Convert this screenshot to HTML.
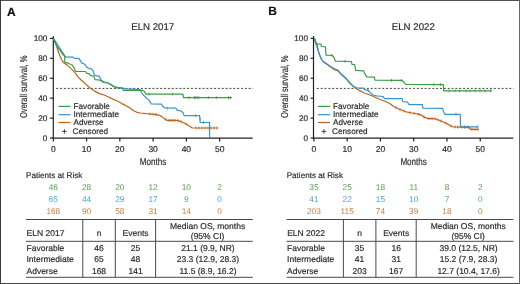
<!DOCTYPE html>
<html><head><meta charset="utf-8"><style>
html,body{margin:0;padding:0;background:#fff;}
svg{display:block;font-family:"Liberation Sans",sans-serif;text-rendering:geometricPrecision;will-change:transform;}
text{stroke-width:0.18px;}
</style></head><body>
<svg width="520" height="284" viewBox="0 0 520 284">
<rect x="0" y="0" width="520" height="284" fill="#fff"/>
<g transform="translate(0,0)">
<text x="6.9" y="15.5" font-weight="bold" font-size="12" fill="#111" stroke="#111">A</text>
<text x="131.2" y="29.8" font-size="9.8" fill="#2b2b2b" stroke="#2b2b2b" textLength="43" lengthAdjust="spacingAndGlyphs">ELN 2017</text>
<g stroke="#222" stroke-width="1.2" fill="none">
<line x1="53.3" y1="36" x2="53.3" y2="138.1"/>
<line x1="52.699999999999996" y1="138.1" x2="252.7" y2="138.1" stroke-width="1.35"/>
<line x1="50" y1="38.40" x2="53.3" y2="38.40"/>
<line x1="50" y1="58.32" x2="53.3" y2="58.32"/>
<line x1="50" y1="78.24" x2="53.3" y2="78.24"/>
<line x1="50" y1="98.16" x2="53.3" y2="98.16"/>
<line x1="50" y1="118.08" x2="53.3" y2="118.08"/>
<line x1="50" y1="138.00" x2="53.3" y2="138.00"/>
<line x1="53.30" y1="138.1" x2="53.30" y2="141.5"/>
<line x1="86.57" y1="138.1" x2="86.57" y2="141.5"/>
<line x1="119.84" y1="138.1" x2="119.84" y2="141.5"/>
<line x1="153.11" y1="138.1" x2="153.11" y2="141.5"/>
<line x1="186.38" y1="138.1" x2="186.38" y2="141.5"/>
<line x1="219.65" y1="138.1" x2="219.65" y2="141.5"/>
</g>
<text x="47.4" y="41.30" font-size="8.2" fill="#2b2b2b" stroke="#2b2b2b" text-anchor="end">100</text>
<text x="47.4" y="61.22" font-size="8.2" fill="#2b2b2b" stroke="#2b2b2b" text-anchor="end">80</text>
<text x="47.4" y="81.14" font-size="8.2" fill="#2b2b2b" stroke="#2b2b2b" text-anchor="end">60</text>
<text x="47.4" y="101.06" font-size="8.2" fill="#2b2b2b" stroke="#2b2b2b" text-anchor="end">40</text>
<text x="47.4" y="120.98" font-size="8.2" fill="#2b2b2b" stroke="#2b2b2b" text-anchor="end">20</text>
<text x="47.4" y="140.90" font-size="8.2" fill="#2b2b2b" stroke="#2b2b2b" text-anchor="end">0</text>
<text x="53.30" y="151.5" font-size="8.5" fill="#2b2b2b" stroke="#2b2b2b" text-anchor="middle">0</text>
<text x="86.57" y="151.5" font-size="8.5" fill="#2b2b2b" stroke="#2b2b2b" text-anchor="middle">10</text>
<text x="119.84" y="151.5" font-size="8.5" fill="#2b2b2b" stroke="#2b2b2b" text-anchor="middle">20</text>
<text x="153.11" y="151.5" font-size="8.5" fill="#2b2b2b" stroke="#2b2b2b" text-anchor="middle">30</text>
<text x="186.38" y="151.5" font-size="8.5" fill="#2b2b2b" stroke="#2b2b2b" text-anchor="middle">40</text>
<text x="219.65" y="151.5" font-size="8.5" fill="#2b2b2b" stroke="#2b2b2b" text-anchor="middle">50</text>
<text x="153" y="164.6" font-size="10" fill="#2b2b2b" stroke="#2b2b2b" text-anchor="middle" textLength="26.4" lengthAdjust="spacingAndGlyphs">Months</text>
<text transform="translate(27.4,118) rotate(-90)" x="0" y="0" font-size="10" fill="#2b2b2b" stroke="#2b2b2b" textLength="62.5" lengthAdjust="spacingAndGlyphs">Overall survival, %</text>
<line x1="56.2" y1="88.4" x2="253" y2="88.4" stroke="#444" stroke-width="1" stroke-dasharray="2,1.85"/>
<g transform="translate(0,0)">
<line x1="58.5" y1="106.4" x2="70.5" y2="106.4" stroke="#3c9c46" stroke-width="1.2"/>
<text x="73.5" y="108.8" font-size="8.2" fill="#2b2b2b" stroke="#2b2b2b">Favorable</text>
<line x1="58.5" y1="114.7" x2="70.5" y2="114.7" stroke="#3794d2" stroke-width="1.2"/>
<text x="73.5" y="117.2" font-size="8.2" fill="#2b2b2b" stroke="#2b2b2b">Intermediate</text>
<line x1="58.5" y1="122.5" x2="70.5" y2="122.5" stroke="#b8641f" stroke-width="1.2"/>
<text x="73.5" y="125.4" font-size="8.2" fill="#2b2b2b" stroke="#2b2b2b">Adverse</text>
<text x="72.6" y="133.7" font-size="8.2" fill="#2b2b2b" stroke="#2b2b2b">Censored</text>
<path d="M62,131.4 h4.8 M64.4,129.1 v4.6" stroke="#333" stroke-width="0.9"/>
</g>
<text x="26.1" y="177.6" font-size="8.1" fill="#2b2b2b" stroke="#2b2b2b">Patients at Risk</text>
<text x="53.30" y="189.6" font-size="8.3" fill="#4f9e48" text-anchor="middle">46</text>
<text x="86.57" y="189.6" font-size="8.3" fill="#4f9e48" text-anchor="middle">28</text>
<text x="119.84" y="189.6" font-size="8.3" fill="#4f9e48" text-anchor="middle">20</text>
<text x="153.11" y="189.6" font-size="8.3" fill="#4f9e48" text-anchor="middle">12</text>
<text x="186.38" y="189.6" font-size="8.3" fill="#4f9e48" text-anchor="middle">10</text>
<text x="219.65" y="189.6" font-size="8.3" fill="#4f9e48" text-anchor="middle">2</text>
<text x="53.30" y="201.8" font-size="8.3" fill="#4a9fd8" text-anchor="middle">65</text>
<text x="86.57" y="201.8" font-size="8.3" fill="#4a9fd8" text-anchor="middle">44</text>
<text x="119.84" y="201.8" font-size="8.3" fill="#4a9fd8" text-anchor="middle">29</text>
<text x="153.11" y="201.8" font-size="8.3" fill="#4a9fd8" text-anchor="middle">17</text>
<text x="186.38" y="201.8" font-size="8.3" fill="#4a9fd8" text-anchor="middle">9</text>
<text x="219.65" y="201.8" font-size="8.3" fill="#4a9fd8" text-anchor="middle">0</text>
<text x="53.30" y="214" font-size="8.3" fill="#c27e42" text-anchor="middle">168</text>
<text x="86.57" y="214" font-size="8.3" fill="#c27e42" text-anchor="middle">90</text>
<text x="119.84" y="214" font-size="8.3" fill="#c27e42" text-anchor="middle">58</text>
<text x="153.11" y="214" font-size="8.3" fill="#c27e42" text-anchor="middle">31</text>
<text x="186.38" y="214" font-size="8.3" fill="#c27e42" text-anchor="middle">14</text>
<text x="219.65" y="214" font-size="8.3" fill="#c27e42" text-anchor="middle">0</text>
<g stroke="#4a4a4a" stroke-width="1">
<line x1="26" y1="219.5" x2="252.8" y2="219.5"/>
<line x1="26" y1="241.3" x2="252.8" y2="241.3"/>
<line x1="26" y1="277.3" x2="252.8" y2="277.3"/>
<line x1="82.8" y1="219.5" x2="82.8" y2="277.3"/>
<line x1="115.3" y1="219.5" x2="115.3" y2="277.3"/>
<line x1="155.6" y1="219.5" x2="155.6" y2="277.3"/>
</g>
<g font-size="8.5" fill="#2b2b2b" stroke="#2b2b2b">
<text x="26.6" y="235.6">ELN 2017</text>
<text x="99" y="235.6" text-anchor="middle">n</text>
<text x="135.6" y="235.6" text-anchor="middle">Events</text>
<text x="207.6" y="228.6" text-anchor="middle">Median OS, months</text>
<text x="207.6" y="238.7" text-anchor="middle">(95% CI)</text>
<text x="26.5" y="250.5">Favorable</text>
<text x="99" y="250.5" text-anchor="middle">46</text>
<text x="135.6" y="250.5" text-anchor="middle">25</text>
<text x="208" y="250.5" text-anchor="middle">21.1 (9.9, NR)</text>
<text x="26.5" y="262.1">Intermediate</text>
<text x="99" y="262.1" text-anchor="middle">65</text>
<text x="135.6" y="262.1" text-anchor="middle">48</text>
<text x="208" y="262.1" text-anchor="middle">23.3 (12.9, 28.3)</text>
<text x="26.5" y="273.6">Adverse</text>
<text x="99" y="273.6" text-anchor="middle">168</text>
<text x="135.6" y="273.6" text-anchor="middle">141</text>
<text x="208" y="273.6" text-anchor="middle">11.5 (8.9, 16.2)</text>
</g>
</g>
<g transform="translate(260.6,0)">
<text x="7.6" y="15.2" font-weight="bold" font-size="12" fill="#111" stroke="#111">B</text>
<text x="131.2" y="29.8" font-size="9.8" fill="#2b2b2b" stroke="#2b2b2b" textLength="43" lengthAdjust="spacingAndGlyphs">ELN 2022</text>
<g stroke="#222" stroke-width="1.2" fill="none">
<line x1="52.9" y1="36" x2="52.9" y2="138.1"/>
<line x1="52.3" y1="138.1" x2="252.7" y2="138.1" stroke-width="1.35"/>
<line x1="50" y1="38.40" x2="52.9" y2="38.40"/>
<line x1="50" y1="58.32" x2="52.9" y2="58.32"/>
<line x1="50" y1="78.24" x2="52.9" y2="78.24"/>
<line x1="50" y1="98.16" x2="52.9" y2="98.16"/>
<line x1="50" y1="118.08" x2="52.9" y2="118.08"/>
<line x1="50" y1="138.00" x2="52.9" y2="138.00"/>
<line x1="53.30" y1="138.1" x2="53.30" y2="141.5"/>
<line x1="86.57" y1="138.1" x2="86.57" y2="141.5"/>
<line x1="119.84" y1="138.1" x2="119.84" y2="141.5"/>
<line x1="153.11" y1="138.1" x2="153.11" y2="141.5"/>
<line x1="186.38" y1="138.1" x2="186.38" y2="141.5"/>
<line x1="219.65" y1="138.1" x2="219.65" y2="141.5"/>
</g>
<text x="47.4" y="41.30" font-size="8.2" fill="#2b2b2b" stroke="#2b2b2b" text-anchor="end">100</text>
<text x="47.4" y="61.22" font-size="8.2" fill="#2b2b2b" stroke="#2b2b2b" text-anchor="end">80</text>
<text x="47.4" y="81.14" font-size="8.2" fill="#2b2b2b" stroke="#2b2b2b" text-anchor="end">60</text>
<text x="47.4" y="101.06" font-size="8.2" fill="#2b2b2b" stroke="#2b2b2b" text-anchor="end">40</text>
<text x="47.4" y="120.98" font-size="8.2" fill="#2b2b2b" stroke="#2b2b2b" text-anchor="end">20</text>
<text x="47.4" y="140.90" font-size="8.2" fill="#2b2b2b" stroke="#2b2b2b" text-anchor="end">0</text>
<text x="53.30" y="151.5" font-size="8.5" fill="#2b2b2b" stroke="#2b2b2b" text-anchor="middle">0</text>
<text x="86.57" y="151.5" font-size="8.5" fill="#2b2b2b" stroke="#2b2b2b" text-anchor="middle">10</text>
<text x="119.84" y="151.5" font-size="8.5" fill="#2b2b2b" stroke="#2b2b2b" text-anchor="middle">20</text>
<text x="153.11" y="151.5" font-size="8.5" fill="#2b2b2b" stroke="#2b2b2b" text-anchor="middle">30</text>
<text x="186.38" y="151.5" font-size="8.5" fill="#2b2b2b" stroke="#2b2b2b" text-anchor="middle">40</text>
<text x="219.65" y="151.5" font-size="8.5" fill="#2b2b2b" stroke="#2b2b2b" text-anchor="middle">50</text>
<text x="153" y="164.6" font-size="10" fill="#2b2b2b" stroke="#2b2b2b" text-anchor="middle" textLength="26.4" lengthAdjust="spacingAndGlyphs">Months</text>
<text transform="translate(27.4,118) rotate(-90)" x="0" y="0" font-size="10" fill="#2b2b2b" stroke="#2b2b2b" textLength="62.5" lengthAdjust="spacingAndGlyphs">Overall survival, %</text>
<line x1="56.2" y1="88.4" x2="253" y2="88.4" stroke="#444" stroke-width="1" stroke-dasharray="2,1.85"/>
<g transform="translate(-1.1,0)">
<line x1="58.5" y1="106.4" x2="70.5" y2="106.4" stroke="#3c9c46" stroke-width="1.2"/>
<text x="73.5" y="108.8" font-size="8.2" fill="#2b2b2b" stroke="#2b2b2b">Favorable</text>
<line x1="58.5" y1="114.7" x2="70.5" y2="114.7" stroke="#3794d2" stroke-width="1.2"/>
<text x="73.5" y="117.2" font-size="8.2" fill="#2b2b2b" stroke="#2b2b2b">Intermediate</text>
<line x1="58.5" y1="122.5" x2="70.5" y2="122.5" stroke="#b8641f" stroke-width="1.2"/>
<text x="73.5" y="125.4" font-size="8.2" fill="#2b2b2b" stroke="#2b2b2b">Adverse</text>
<text x="72.6" y="133.7" font-size="8.2" fill="#2b2b2b" stroke="#2b2b2b">Censored</text>
<path d="M62,131.4 h4.8 M64.4,129.1 v4.6" stroke="#333" stroke-width="0.9"/>
</g>
<text x="26.1" y="177.6" font-size="8.1" fill="#2b2b2b" stroke="#2b2b2b">Patients at Risk</text>
<text x="53.30" y="189.6" font-size="8.3" fill="#4f9e48" text-anchor="middle">35</text>
<text x="86.57" y="189.6" font-size="8.3" fill="#4f9e48" text-anchor="middle">25</text>
<text x="119.84" y="189.6" font-size="8.3" fill="#4f9e48" text-anchor="middle">18</text>
<text x="153.11" y="189.6" font-size="8.3" fill="#4f9e48" text-anchor="middle">11</text>
<text x="186.38" y="189.6" font-size="8.3" fill="#4f9e48" text-anchor="middle">8</text>
<text x="219.65" y="189.6" font-size="8.3" fill="#4f9e48" text-anchor="middle">2</text>
<text x="53.30" y="201.8" font-size="8.3" fill="#4a9fd8" text-anchor="middle">41</text>
<text x="86.57" y="201.8" font-size="8.3" fill="#4a9fd8" text-anchor="middle">22</text>
<text x="119.84" y="201.8" font-size="8.3" fill="#4a9fd8" text-anchor="middle">15</text>
<text x="153.11" y="201.8" font-size="8.3" fill="#4a9fd8" text-anchor="middle">10</text>
<text x="186.38" y="201.8" font-size="8.3" fill="#4a9fd8" text-anchor="middle">7</text>
<text x="219.65" y="201.8" font-size="8.3" fill="#4a9fd8" text-anchor="middle">0</text>
<text x="53.30" y="214" font-size="8.3" fill="#c27e42" text-anchor="middle">203</text>
<text x="86.57" y="214" font-size="8.3" fill="#c27e42" text-anchor="middle">115</text>
<text x="119.84" y="214" font-size="8.3" fill="#c27e42" text-anchor="middle">74</text>
<text x="153.11" y="214" font-size="8.3" fill="#c27e42" text-anchor="middle">39</text>
<text x="186.38" y="214" font-size="8.3" fill="#c27e42" text-anchor="middle">18</text>
<text x="219.65" y="214" font-size="8.3" fill="#c27e42" text-anchor="middle">0</text>
<g stroke="#4a4a4a" stroke-width="1">
<line x1="26" y1="219.5" x2="252.8" y2="219.5"/>
<line x1="26" y1="241.3" x2="252.8" y2="241.3"/>
<line x1="26" y1="277.3" x2="252.8" y2="277.3"/>
<line x1="82.8" y1="219.5" x2="82.8" y2="277.3"/>
<line x1="115.3" y1="219.5" x2="115.3" y2="277.3"/>
<line x1="155.6" y1="219.5" x2="155.6" y2="277.3"/>
</g>
<g font-size="8.5" fill="#2b2b2b" stroke="#2b2b2b">
<text x="26.6" y="235.6">ELN 2022</text>
<text x="99" y="235.6" text-anchor="middle">n</text>
<text x="135.6" y="235.6" text-anchor="middle">Events</text>
<text x="207.6" y="228.6" text-anchor="middle">Median OS, months</text>
<text x="207.6" y="238.7" text-anchor="middle">(95% CI)</text>
<text x="26.5" y="250.5">Favorable</text>
<text x="99" y="250.5" text-anchor="middle">35</text>
<text x="135.6" y="250.5" text-anchor="middle">16</text>
<text x="208" y="250.5" text-anchor="middle">39.0 (12.5, NR)</text>
<text x="26.5" y="262.1">Intermediate</text>
<text x="99" y="262.1" text-anchor="middle">41</text>
<text x="135.6" y="262.1" text-anchor="middle">31</text>
<text x="208" y="262.1" text-anchor="middle">15.2 (7.9, 28.3)</text>
<text x="26.5" y="273.6">Adverse</text>
<text x="99" y="273.6" text-anchor="middle">203</text>
<text x="135.6" y="273.6" text-anchor="middle">167</text>
<text x="208" y="273.6" text-anchor="middle">12.7 (10.4, 17.6)</text>
</g>
</g>
<path d="M53.50,38.40 L56.30,45.50 L58.80,53.00 L60.00,56.00 L61.50,59.50 L63.40,62.30 L65.20,63.70 L67.10,65.10 L69.40,66.90 L71.20,68.80 L73.50,71.10 L75.90,73.90 L78.20,77.10 L80.60,79.50 L85.20,83.60 L89.80,87.70 L94.50,91.10 L99.10,93.40 L104.70,95.30 L109.20,97.20 L112.70,99.10 L117.30,101.00 L121.90,103.60 L125.40,105.40 L128.80,107.30 L132.30,109.80 L134.60,111.20 L136.90,112.30 L140.40,113.00 L146.20,113.70 L151.90,114.20 L155.00,114.30 L159.20,115.20 L161.50,116.40 L164.40,118.70 L167.30,120.40 L176.50,120.40 L180.00,121.20 L183.50,122.70 L186.90,124.50 L190.40,126.80 L192.10,128.00 L218.20,128.00" fill="none" stroke="#b8641f" stroke-width="1.2" stroke-linejoin="round"/>
<path d="M53.50,38.40 L64.60,55.60 L66.20,57.20 L73.10,57.20 L74.00,58.20 L79.10,58.60 L80.50,60.90 L81.90,63.20 L83.70,63.70 L85.50,65.10 L86.90,67.40 L88.80,68.30 L91.50,68.80 L93.40,71.10 L94.30,74.80 L95.70,75.70 L99.40,76.20 L100.80,79.60 L103.70,81.90 L107.20,82.50 L110.60,84.20 L114.00,86.50 L118.70,87.70 L123.30,88.20 L125.60,88.90 L140.40,89.60 L141.50,92.70 L143.30,95.00 L145.60,97.30 L148.50,99.60 L150.20,101.90 L151.30,104.00 L161.50,104.20 L162.70,106.20 L165.00,107.90 L176.00,108.20 L177.10,110.20 L180.60,110.80 L182.90,112.50 L184.00,115.40 L184.60,115.70 L199.60,115.70 L200.20,122.50 L209.60,122.50 L209.60,138.00" fill="none" stroke="#3794d2" stroke-width="1.2" stroke-linejoin="round"/>
<path d="M53.50,38.40 L55.40,43.50 L58.40,48.20 L61.80,53.00 L64.30,55.80 L64.60,56.00 L64.80,62.30 L66.60,62.80 L68.00,62.80 L68.90,63.70 L70.80,64.30 L72.20,65.10 L74.00,67.80 L75.40,71.10 L75.90,71.50 L85.50,71.50 L86.90,73.40 L89.20,73.90 L90.60,75.70 L93.90,76.20 L95.00,79.60 L100.20,80.20 L103.70,82.50 L107.70,83.00 L111.80,85.30 L115.20,87.60 L122.20,88.20 L123.30,90.30 L142.70,90.30 L144.40,91.50 L145.60,93.80 L146.20,94.10 L182.90,94.10 L183.50,97.70 L231.90,97.70" fill="none" stroke="#3c9c46" stroke-width="1.2" stroke-linejoin="round"/>
<path d="M149.00,92.60 v3 M172.50,92.60 v3 M189.20,96.20 v3 M194.40,96.20 v3 M195.60,96.20 v3 M197.30,96.20 v3 M199.00,96.20 v3 M208.30,96.20 v3 M216.30,96.20 v3 M228.50,96.20 v3 M230.20,96.20 v3" fill="none" stroke="#3c9c46" stroke-width="0.8"/>
<path d="M167.30,106.70 v3 M195.60,114.20 v3 M200.10,117.50 v3 M203.50,121.00 v3" fill="none" stroke="#3794d2" stroke-width="0.8"/>
<path d="M150.00,112.53 v3 M153.00,112.74 v3 M156.00,113.01 v3 M166.00,118.14 v3 M169.00,118.90 v3 M171.00,118.90 v3 M173.00,118.90 v3 M175.00,118.90 v3 M178.00,119.24 v3 M181.00,120.13 v3 M186.00,122.52 v3 M196.00,126.50 v3 M199.00,126.50 v3 M202.00,126.50 v3 M205.00,126.50 v3 M208.00,126.50 v3 M211.00,126.50 v3 M214.00,126.50 v3 M217.00,126.50 v3" fill="none" stroke="#b8641f" stroke-width="0.8"/>
<path d="M314.30,38.00 L317.00,47.00 L319.40,54.50 L321.50,59.50 L323.50,62.00 L326.70,64.30 L330.20,66.80 L334.20,69.60 L338.10,71.00 L341.50,74.80 L346.20,78.80 L349.60,83.00 L354.60,87.50 L359.20,90.40 L363.80,92.70 L368.50,94.50 L373.10,96.20 L377.70,98.50 L382.30,100.20 L386.90,102.00 L390.40,104.00 L393.80,106.50 L398.10,108.70 L402.70,110.50 L407.30,112.20 L411.90,113.00 L417.70,113.90 L421.20,115.10 L424.60,117.40 L428.10,118.60 L434.60,118.70 L439.20,120.20 L442.70,121.70 L447.30,123.70 L450.80,126.00 L453.10,126.80 L460.60,127.10 L469.80,127.70 L470.40,129.40 L478.50,129.40" fill="none" stroke="#b8641f" stroke-width="1.2" stroke-linejoin="round"/>
<path d="M314.30,38.00 L317.50,46.20 L318.60,52.00 L321.20,59.10 L323.20,61.30 L326.70,63.70 L330.20,66.20 L334.20,68.50 L338.10,70.20 L341.50,74.30 L346.20,78.30 L349.60,82.30 L353.50,86.50 L356.90,87.80 L363.30,88.10 L364.40,89.60 L368.50,90.40 L370.20,92.70 L373.10,95.00 L376.50,95.80 L382.90,96.50 L384.60,98.60 L402.10,98.70 L402.70,101.60 L407.30,101.80 L409.00,104.60 L422.30,104.70 L422.90,108.20 L442.60,108.30 L443.30,111.00 L445.00,114.40 L460.30,114.40 L460.50,126.80 L478.50,126.80" fill="none" stroke="#3794d2" stroke-width="1.2" stroke-linejoin="round"/>
<path d="M314.30,38.00 L315.70,43.80 L320.90,44.20 L321.50,46.50 L325.50,46.90 L326.00,55.10 L332.00,55.40 L333.00,56.00 L334.50,58.60 L335.50,61.20 L351.40,61.50 L352.00,64.30 L354.80,64.70 L355.60,70.40 L363.50,70.80 L364.60,73.30 L366.90,76.80 L374.30,77.10 L375.00,80.10 L402.00,80.40 L405.80,84.30 L443.30,84.60 L443.80,90.90 L491.90,90.90" fill="none" stroke="#3c9c46" stroke-width="1.2" stroke-linejoin="round"/>
<path d="M332.00,53.90 v3 M345.00,60.00 v3 M391.50,78.90 v3 M401.30,78.90 v3 M433.70,83.10 v3 M440.40,83.10 v3 M449.00,89.40 v3 M455.00,89.40 v3 M459.60,89.40 v3 M466.30,89.40 v3 M470.00,89.40 v3 M475.00,89.40 v3 M480.00,89.40 v3 M485.00,89.40 v3 M490.40,89.40 v3" fill="none" stroke="#3c9c46" stroke-width="0.8"/>
<path d="M368.00,88.90 v3 M456.00,112.90 v3 M464.60,125.30 v3 M467.50,125.30 v3 M477.30,125.30 v3" fill="none" stroke="#3794d2" stroke-width="0.8"/>
<path d="M396.00,106.13 v3 M400.00,107.94 v3 M404.00,109.48 v3 M410.00,111.17 v3 M414.00,111.83 v3 M419.00,112.85 v3 M424.00,115.49 v3 M429.00,117.11 v3 M432.00,117.16 v3 M435.00,117.33 v3 M438.00,118.31 v3 M441.00,119.47 v3 M446.00,121.63 v3 M451.00,124.57 v3 M455.00,125.38 v3 M458.00,125.50 v3 M462.00,125.69 v3 M465.00,125.89 v3 M469.00,126.15 v3 M472.00,127.90 v3 M475.00,127.90 v3 M478.00,127.90 v3" fill="none" stroke="#b8641f" stroke-width="0.8"/>
<path d="M0,0.5 H520" stroke="#505050" stroke-width="1"/>
<path d="M0,283.5 H520" stroke="#464646" stroke-width="1"/>
<path d="M0.5,0 V284" stroke="#3a3a3a" stroke-width="1"/>
<path d="M519.5,0 V284" stroke="#666" stroke-width="1"/>
</svg>
</body></html>
